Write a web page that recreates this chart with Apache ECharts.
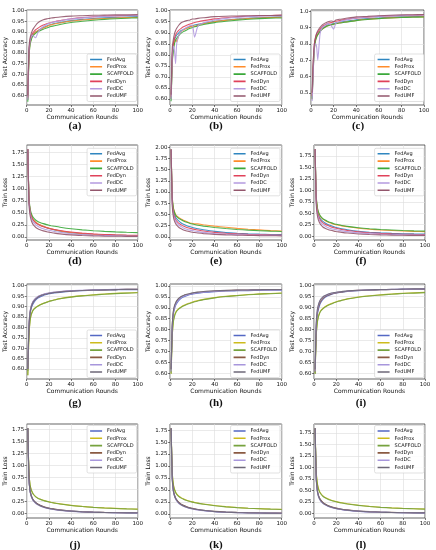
<!DOCTYPE html>
<html><head><meta charset="utf-8">
<script src="https://cdn.jsdelivr.net/npm/echarts@6/dist/echarts.min.js"></script>
<style>html,body{margin:0;padding:0;background:#fff}#c{width:436px;height:550px}</style>
</head><body><div id="c"></div>
<script>
// ---------- DATA ----------
const rounds = [1,2,3,4,5,6,8,10,12,15,18,20,22,25,30,40,50,60,70,80,90,100];
const methods = ['FedAvg','FedProx','SCAFFOLD','FedDyn','FedDC','FedUMF'];
const panelLabels = ['(a)','(b)','(c)','(d)','(e)','(f)','(g)','(h)','(i)','(j)','(k)','(l)'];
const xTicks = [0,20,40,60,80,100];
const accTicks = [0.60,0.65,0.70,0.75,0.80,0.85,0.90,0.95,1.00];
const accTicksC = [0.5,0.6,0.7,0.8,0.9,1.0];
const lossTicks = [0,0.25,0.5,0.75,1.0,1.25,1.5,1.75];
const lossTicksE = [0,0.25,0.5,0.75,1.0,1.25,1.5,1.75,2.0];

// rows: FedAvg, FedProx, SCAFFOLD, FedDyn, FedDC, FedUMF
const valsA = [
 [0.58,0.79,0.85,0.87,0.885,0.89,0.9,0.905,0.912,0.92,0.927,0.932,0.935,0.939,0.944,0.953,0.959,0.963,0.966,0.968,0.97,0.972],
 [0.58,0.78,0.845,0.865,0.88,0.888,0.898,0.905,0.91,0.918,0.925,0.93,0.933,0.937,0.942,0.951,0.956,0.96,0.963,0.965,0.967,0.968],
 [0.57,0.77,0.84,0.86,0.875,0.883,0.893,0.9,0.905,0.912,0.918,0.922,0.925,0.929,0.935,0.944,0.95,0.955,0.959,0.962,0.964,0.966],
 [0.59,0.8,0.86,0.88,0.89,0.898,0.91,0.917,0.924,0.932,0.938,0.941,0.944,0.948,0.953,0.962,0.967,0.971,0.974,0.976,0.977,0.978],
 [0.58,0.8,0.855,0.875,0.885,0.88,0.872,0.895,0.91,0.925,0.935,0.94,0.943,0.947,0.952,0.961,0.966,0.97,0.973,0.975,0.976,0.977],
 [0.6,0.82,0.87,0.89,0.905,0.915,0.93,0.942,0.95,0.957,0.961,0.963,0.965,0.967,0.97,0.974,0.976,0.978,0.979,0.98,0.98,0.981]
];
const valsB = [
 [0.6,0.78,0.84,0.87,0.88,0.89,0.9,0.91,0.915,0.922,0.928,0.932,0.935,0.938,0.943,0.952,0.958,0.962,0.966,0.968,0.97,0.972],
 [0.6,0.77,0.83,0.86,0.87,0.86,0.89,0.905,0.912,0.92,0.926,0.93,0.93,0.935,0.941,0.95,0.956,0.961,0.964,0.967,0.969,0.97],
 [0.59,0.76,0.82,0.85,0.865,0.875,0.888,0.898,0.905,0.913,0.92,0.924,0.927,0.931,0.937,0.946,0.952,0.957,0.961,0.964,0.966,0.967],
 [0.61,0.8,0.85,0.875,0.89,0.9,0.912,0.92,0.927,0.934,0.94,0.943,0.946,0.95,0.955,0.963,0.968,0.972,0.975,0.977,0.978,0.979],
 [0.6,0.79,0.84,0.82,0.76,0.85,0.89,0.905,0.915,0.925,0.933,0.935,0.88,0.93,0.945,0.958,0.965,0.97,0.973,0.975,0.976,0.977],
 [0.62,0.83,0.87,0.895,0.91,0.92,0.935,0.945,0.95,0.955,0.958,0.962,0.962,0.965,0.968,0.973,0.975,0.976,0.977,0.978,0.978,0.98]
];
const valsC = [
 [0.47,0.66,0.78,0.83,0.85,0.86,0.88,0.895,0.905,0.915,0.92,0.925,0.928,0.932,0.937,0.947,0.954,0.958,0.962,0.965,0.967,0.968],
 [0.46,0.65,0.77,0.82,0.845,0.855,0.875,0.89,0.9,0.91,0.917,0.92,0.924,0.928,0.933,0.943,0.95,0.955,0.959,0.962,0.964,0.965],
 [0.46,0.64,0.77,0.82,0.84,0.855,0.875,0.89,0.9,0.91,0.916,0.92,0.923,0.927,0.932,0.942,0.949,0.954,0.958,0.961,0.963,0.964],
 [0.48,0.68,0.8,0.84,0.86,0.87,0.89,0.905,0.915,0.925,0.93,0.935,0.938,0.942,0.948,0.957,0.963,0.968,0.971,0.973,0.975,0.976],
 [0.45,0.62,0.79,0.8,0.78,0.7,0.86,0.9,0.91,0.925,0.91,0.89,0.925,0.935,0.945,0.958,0.964,0.968,0.971,0.973,0.975,0.976],
 [0.5,0.7,0.8,0.84,0.865,0.88,0.9,0.915,0.925,0.935,0.94,0.935,0.945,0.95,0.955,0.965,0.968,0.972,0.975,0.977,0.978,0.979]
];
const valsD = [
 [1.82,0.8,0.55,0.45,0.39,0.35,0.3,0.27,0.245,0.215,0.19,0.175,0.162,0.145,0.12,0.085,0.062,0.048,0.039,0.033,0.029,0.026],
 [1.82,0.82,0.56,0.46,0.4,0.36,0.31,0.275,0.25,0.22,0.195,0.18,0.167,0.15,0.125,0.09,0.066,0.051,0.041,0.035,0.03,0.027],
 [1.82,0.85,0.6,0.5,0.44,0.4,0.35,0.32,0.3,0.275,0.255,0.243,0.233,0.22,0.2,0.168,0.145,0.128,0.114,0.103,0.095,0.088],
 [1.82,0.8,0.54,0.44,0.38,0.34,0.29,0.26,0.237,0.21,0.19,0.178,0.167,0.152,0.132,0.1,0.078,0.062,0.05,0.042,0.036,0.032],
 [1.82,0.75,0.5,0.4,0.34,0.3,0.25,0.22,0.195,0.168,0.148,0.137,0.127,0.113,0.095,0.066,0.048,0.036,0.029,0.024,0.02,0.018],
 [1.82,0.7,0.45,0.35,0.29,0.25,0.2,0.17,0.15,0.125,0.108,0.098,0.09,0.078,0.063,0.041,0.029,0.021,0.016,0.013,0.011,0.01]
];
const valsE = [
 [1.95,0.85,0.6,0.5,0.44,0.4,0.35,0.31,0.28,0.25,0.225,0.21,0.197,0.18,0.158,0.122,0.097,0.08,0.068,0.06,0.054,0.05],
 [1.95,0.9,0.65,0.56,0.5,0.47,0.43,0.4,0.37,0.34,0.31,0.3,0.29,0.29,0.27,0.24,0.215,0.19,0.17,0.155,0.14,0.13],
 [1.95,0.9,0.64,0.55,0.49,0.45,0.41,0.38,0.355,0.325,0.3,0.287,0.275,0.26,0.24,0.21,0.185,0.165,0.15,0.138,0.128,0.12],
 [1.95,0.8,0.55,0.45,0.39,0.35,0.3,0.27,0.24,0.21,0.19,0.178,0.167,0.152,0.13,0.1,0.08,0.066,0.056,0.049,0.044,0.04],
 [1.95,0.75,0.5,0.4,0.35,0.31,0.26,0.23,0.2,0.17,0.15,0.14,0.13,0.117,0.1,0.075,0.06,0.05,0.043,0.038,0.034,0.031],
 [1.95,0.7,0.45,0.35,0.3,0.26,0.21,0.18,0.155,0.13,0.113,0.104,0.096,0.086,0.073,0.055,0.044,0.037,0.032,0.028,0.025,0.023]
];
const valsF = [
 [1.9,0.85,0.58,0.47,0.41,0.37,0.32,0.285,0.26,0.23,0.205,0.19,0.178,0.162,0.14,0.107,0.085,0.07,0.06,0.053,0.048,0.045],
 [1.9,0.88,0.62,0.52,0.46,0.42,0.37,0.34,0.315,0.285,0.26,0.248,0.237,0.223,0.203,0.172,0.15,0.134,0.122,0.112,0.104,0.098],
 [1.9,0.88,0.63,0.53,0.47,0.43,0.38,0.35,0.325,0.295,0.27,0.258,0.247,0.233,0.213,0.182,0.16,0.144,0.132,0.122,0.114,0.108],
 [1.9,0.8,0.54,0.44,0.38,0.34,0.29,0.26,0.235,0.205,0.183,0.17,0.159,0.144,0.124,0.093,0.073,0.059,0.049,0.042,0.037,0.034],
 [1.9,0.75,0.5,0.4,0.34,0.3,0.25,0.22,0.195,0.168,0.148,0.137,0.127,0.114,0.097,0.071,0.055,0.044,0.036,0.031,0.027,0.025],
 [1.9,0.7,0.45,0.35,0.29,0.25,0.2,0.17,0.15,0.126,0.109,0.1,0.092,0.081,0.067,0.047,0.035,0.027,0.022,0.018,0.016,0.015]
];
const valsG = [
 [0.59,0.79,0.86,0.89,0.905,0.915,0.93,0.94,0.946,0.953,0.958,0.961,0.963,0.965,0.968,0.973,0.976,0.978,0.979,0.98,0.981,0.981],
 [0.57,0.76,0.83,0.86,0.875,0.885,0.895,0.902,0.908,0.915,0.921,0.925,0.928,0.932,0.938,0.946,0.952,0.956,0.96,0.963,0.965,0.967],
 [0.57,0.76,0.83,0.86,0.874,0.884,0.894,0.901,0.907,0.914,0.92,0.924,0.927,0.931,0.937,0.945,0.951,0.955,0.959,0.962,0.964,0.966],
 [0.6,0.8,0.87,0.9,0.915,0.925,0.938,0.946,0.952,0.958,0.962,0.964,0.966,0.968,0.971,0.975,0.977,0.979,0.98,0.981,0.982,0.982],
 [0.6,0.81,0.875,0.9,0.917,0.927,0.94,0.948,0.953,0.959,0.963,0.965,0.967,0.969,0.972,0.976,0.978,0.98,0.981,0.982,0.982,0.983],
 [0.6,0.8,0.87,0.895,0.912,0.922,0.935,0.944,0.95,0.956,0.96,0.963,0.965,0.967,0.97,0.974,0.977,0.979,0.98,0.981,0.982,0.982]
];
const valsH = [
 [0.61,0.8,0.87,0.895,0.91,0.92,0.934,0.943,0.949,0.955,0.96,0.962,0.964,0.966,0.969,0.973,0.976,0.977,0.978,0.979,0.98,0.98],
 [0.6,0.77,0.84,0.865,0.878,0.887,0.897,0.904,0.91,0.917,0.922,0.926,0.929,0.933,0.938,0.946,0.952,0.956,0.96,0.963,0.965,0.967],
 [0.6,0.77,0.835,0.86,0.875,0.884,0.895,0.902,0.908,0.915,0.92,0.924,0.927,0.931,0.937,0.945,0.951,0.955,0.959,0.962,0.964,0.966],
 [0.62,0.82,0.88,0.905,0.92,0.93,0.942,0.95,0.955,0.96,0.964,0.966,0.968,0.97,0.973,0.976,0.978,0.98,0.981,0.982,0.982,0.983],
 [0.61,0.81,0.875,0.9,0.915,0.925,0.938,0.947,0.952,0.958,0.962,0.964,0.966,0.968,0.971,0.975,0.977,0.979,0.98,0.981,0.981,0.982],
 [0.62,0.82,0.885,0.91,0.922,0.932,0.944,0.951,0.956,0.961,0.965,0.967,0.969,0.971,0.974,0.977,0.979,0.98,0.981,0.982,0.983,0.983]
];
const valsI = [
 [0.6,0.8,0.865,0.89,0.908,0.92,0.935,0.945,0.951,0.957,0.962,0.964,0.966,0.968,0.971,0.975,0.977,0.979,0.98,0.981,0.981,0.982],
 [0.6,0.77,0.835,0.86,0.874,0.884,0.895,0.903,0.909,0.916,0.921,0.925,0.928,0.932,0.938,0.946,0.952,0.956,0.96,0.963,0.965,0.967],
 [0.6,0.77,0.83,0.857,0.872,0.882,0.893,0.901,0.907,0.914,0.92,0.924,0.927,0.931,0.937,0.945,0.951,0.955,0.959,0.962,0.964,0.966],
 [0.61,0.81,0.875,0.9,0.916,0.927,0.94,0.948,0.954,0.959,0.963,0.965,0.967,0.969,0.972,0.976,0.978,0.979,0.98,0.981,0.982,0.982],
 [0.61,0.82,0.885,0.91,0.925,0.935,0.946,0.952,0.957,0.962,0.965,0.967,0.969,0.971,0.973,0.977,0.979,0.98,0.981,0.982,0.982,0.983],
 [0.62,0.83,0.89,0.912,0.926,0.936,0.947,0.953,0.958,0.963,0.966,0.968,0.969,0.971,0.974,0.977,0.979,0.98,0.981,0.982,0.983,0.983]
];
const valsJ = [
 [1.77,0.75,0.48,0.38,0.32,0.28,0.23,0.195,0.17,0.14,0.12,0.11,0.1,0.088,0.072,0.05,0.037,0.029,0.023,0.019,0.016,0.014],
 [1.77,0.85,0.6,0.5,0.44,0.4,0.35,0.32,0.3,0.275,0.255,0.243,0.233,0.22,0.2,0.17,0.148,0.13,0.117,0.107,0.099,0.092],
 [1.77,0.85,0.6,0.5,0.44,0.4,0.35,0.318,0.297,0.272,0.252,0.24,0.23,0.217,0.197,0.167,0.145,0.128,0.115,0.105,0.097,0.09],
 [1.77,0.75,0.48,0.38,0.32,0.28,0.23,0.197,0.173,0.144,0.124,0.114,0.104,0.092,0.076,0.053,0.039,0.031,0.025,0.021,0.018,0.016],
 [1.77,0.72,0.46,0.36,0.3,0.26,0.21,0.18,0.157,0.13,0.111,0.101,0.093,0.081,0.066,0.046,0.034,0.026,0.021,0.017,0.015,0.013],
 [1.77,0.74,0.47,0.37,0.31,0.27,0.22,0.188,0.164,0.136,0.116,0.106,0.097,0.085,0.069,0.048,0.035,0.027,0.022,0.018,0.015,0.013]
];
const valsK = [
 [1.79,0.76,0.49,0.39,0.33,0.29,0.235,0.2,0.175,0.145,0.124,0.113,0.103,0.091,0.075,0.052,0.039,0.03,0.024,0.02,0.017,0.015],
 [1.79,0.88,0.62,0.52,0.46,0.42,0.37,0.34,0.315,0.287,0.265,0.252,0.241,0.227,0.206,0.175,0.152,0.134,0.12,0.11,0.102,0.095],
 [1.79,0.87,0.61,0.51,0.45,0.41,0.36,0.33,0.307,0.28,0.258,0.246,0.235,0.221,0.201,0.17,0.148,0.131,0.118,0.108,0.1,0.093],
 [1.79,0.77,0.5,0.4,0.335,0.295,0.24,0.205,0.18,0.15,0.128,0.117,0.107,0.094,0.078,0.055,0.041,0.032,0.026,0.021,0.018,0.016],
 [1.79,0.73,0.47,0.37,0.31,0.27,0.218,0.186,0.162,0.134,0.114,0.104,0.095,0.083,0.068,0.047,0.035,0.027,0.021,0.017,0.015,0.013],
 [1.79,0.74,0.48,0.38,0.32,0.28,0.225,0.192,0.167,0.138,0.118,0.107,0.098,0.086,0.07,0.049,0.036,0.028,0.022,0.018,0.015,0.013]
];
const valsL = [
 [1.85,0.78,0.5,0.39,0.33,0.29,0.235,0.2,0.175,0.145,0.124,0.113,0.103,0.091,0.075,0.052,0.039,0.03,0.024,0.02,0.017,0.015],
 [1.85,0.92,0.66,0.55,0.48,0.44,0.385,0.35,0.325,0.295,0.272,0.259,0.248,0.233,0.212,0.18,0.156,0.138,0.124,0.113,0.105,0.098],
 [1.85,0.9,0.64,0.53,0.47,0.43,0.375,0.342,0.318,0.29,0.267,0.254,0.243,0.229,0.208,0.177,0.153,0.135,0.122,0.111,0.103,0.096],
 [1.85,0.78,0.51,0.4,0.34,0.3,0.242,0.207,0.182,0.151,0.129,0.118,0.108,0.095,0.079,0.056,0.042,0.033,0.027,0.022,0.019,0.017],
 [1.85,0.74,0.48,0.37,0.31,0.27,0.22,0.188,0.164,0.136,0.116,0.105,0.096,0.084,0.069,0.048,0.036,0.028,0.022,0.018,0.015,0.013],
 [1.85,0.76,0.49,0.38,0.32,0.28,0.228,0.195,0.17,0.14,0.12,0.109,0.1,0.088,0.072,0.05,0.037,0.029,0.023,0.019,0.016,0.014]
];

// y-axis extents per panel [min, max, decimals]
const yExtA = [0.555, 1.003, 2], yExtB = [0.573, 1.003, 2], yExtC = [0.425, 1.007, 1];
const yExtD = [-0.065, 1.91, 2], yExtE = [-0.07, 2.05, 2], yExtF = [-0.085, 1.99, 2];
const yExtG = [0.552, 1.008, 2], yExtH = [0.576, 1.008, 2], yExtI = [0.576, 1.005, 2];
const yExtJ = [-0.092, 1.856, 2], yExtK = [-0.085, 1.878, 2], yExtL = [-0.096, 1.94, 2];

// ---------- STYLE / LAYOUT ----------
const paletteTop = ['#2f86c0','#ff8c2a','#3aa83a','#e0425a','#b49be0','#93566c'];
const paletteBot = ['#5468c4','#cdbb1c','#76a23e','#8a5a42','#a796dc','#6e6878'];
const FONT = 'DejaVu Sans';
const LINE_ICON = 'path://M0,0L0.01,0L0,0.01Z M0,2.2L12,2.2L12,3.8L0,3.8Z M12,6L11.99,6L12,5.99Z';

const panels = [
  {v:valsA, y:yExtA, t:accTicks, name:'Test Accuracy'}, {v:valsB, y:yExtB, t:accTicks, name:'Test Accuracy'}, {v:valsC, y:yExtC, t:accTicksC, name:'Test Accuracy'},
  {v:valsD, y:yExtD, t:lossTicks, name:'Train Loss'}, {v:valsE, y:yExtE, t:lossTicksE, name:'Train Loss'}, {v:valsF, y:yExtF, t:lossTicks, name:'Train Loss'},
  {v:valsG, y:yExtG, t:accTicks, name:'Test Accuracy'}, {v:valsH, y:yExtH, t:accTicks, name:'Test Accuracy'}, {v:valsI, y:yExtI, t:accTicks, name:'Test Accuracy'},
  {v:valsJ, y:yExtJ, t:lossTicks, name:'Train Loss'}, {v:valsK, y:yExtK, t:lossTicks, name:'Train Loss'}, {v:valsL, y:yExtL, t:lossTicks, name:'Train Loss'}
];
const rowTop = [10, 145, 284, 424];
const rowH = [95, 95, 95, 94];
const labelY = [126, 261, 403, 545];

const grids = [], xAxes = [], yAxes = [], series = [], legends = [], graphics = [];
panels.forEach((p, i) => {
  const row = Math.floor(i / 3), col = i % 3;
  let left, right, labelX;
  if (col === 0) { left = 26.7; right = 137.7; labelX = 75; }
  else if (col === 1) { left = 170; right = 281.7; labelX = 216; }
  else { left = (i === 2) ? 311 : 314; right = (i === 2) ? 424 : 425; labelX = (i === 2) ? 358 : 361; }
  grids.push({left: left, top: rowTop[row], width: right - left, height: rowH[row], show: true,
    borderColor: '#222', borderWidth: 0.7, containLabel: false});
  xAxes.push({type: 'value', gridIndex: i, min: 0, max: 100, interval: 20,
    name: 'Communication Rounds', nameLocation: 'middle', nameGap: 7,
    nameTextStyle: {fontFamily: FONT, fontSize: 6, color: '#111'},
    axisLine: {show: false, onZero: false},
    axisTick: {show: true, length: 2, lineStyle: {color: '#222', width: 0.6}, customValues: xTicks},
    axisLabel: {fontFamily: FONT, fontSize: 5.5, color: '#111', margin: 2.5, customValues: xTicks},
    splitLine: {show: true, lineStyle: {color: '#dcdcdc', width: 0.6}}});
  const [ymin, ymax, dec] = p.y;
  yAxes.push({type: 'value', gridIndex: i, min: ymin, max: ymax,
    name: p.name, nameLocation: 'middle', nameGap: (i === 2) ? 11 : 15,
    nameTextStyle: {fontFamily: FONT, fontSize: 6, color: '#111'},
    axisLine: {show: false, onZero: false},
    axisTick: {show: true, length: 2, lineStyle: {color: '#222', width: 0.6}, customValues: p.t},
    axisLabel: {fontFamily: FONT, fontSize: 5.5, color: '#111', margin: 2.5, customValues: p.t,
      formatter: v => Number(v).toFixed(dec)},
    splitLine: {show: true, lineStyle: {color: '#dcdcdc', width: 0.6}}});
  const bottomGroup = row >= 2;
  const pal = bottomGroup ? paletteBot : paletteTop;
  const suffix = bottomGroup ? ' ' : '';
  methods.forEach((m, k) => {
    series.push({type: 'line', name: m + suffix, xAxisIndex: i, yAxisIndex: i,
      data: rounds.map((r, j) => [r, p.v[k][j]]),
      symbol: 'none', smooth: 0.2, color: pal[k],
      lineStyle: {width: 1.1, color: pal[k], opacity: 0.9}, z: 2 + k, silent: true, animation: false});
  });
  const legendRight = col === 0 ? 299.5 : (col === 1 ? 156 : 12);
  const lg = {orient: 'vertical', right: legendRight,
    data: methods.map((m, k) => ({name: m + suffix, icon: LINE_ICON, itemStyle: {color: pal[k], borderWidth: 0, opacity: 1}})),
    formatter: n => n.trim(), selectedMode: false, icon: LINE_ICON,
    itemWidth: 12, itemHeight: 6, itemGap: 1.3, padding: [2.5, 3, 2.5, 3],
    backgroundColor: 'rgba(255,255,255,0.85)', borderColor: '#cccccc', borderWidth: 0.6, borderRadius: 1.5,
    textStyle: {fontFamily: FONT, fontSize: 5, lineHeight: 5.8, color: '#111'}};
  if (row === 0) lg.bottom = 550 - 101.5;
  else if (row === 2) lg.bottom = 550 - 377.5;
  else if (row === 1) lg.top = 148.3;
  else lg.top = 425.5;
  legends.push(lg);
  graphics.push({type: 'text', x: labelX, y: labelY[row], silent: true,
    style: {text: panelLabels[i], align: 'center', verticalAlign: 'middle',
      fontFamily: 'Liberation Serif', fontSize: 11, fontWeight: 'bold', fill: '#111'}});
});

const chart = echarts.init(document.getElementById('c'), null, {renderer: 'canvas'});
chart.setOption({
  animation: false,
  backgroundColor: '#ffffff',
  grid: grids, xAxis: xAxes, yAxis: yAxes, series: series, legend: legends, graphic: graphics
});
</script>
</body></html>
